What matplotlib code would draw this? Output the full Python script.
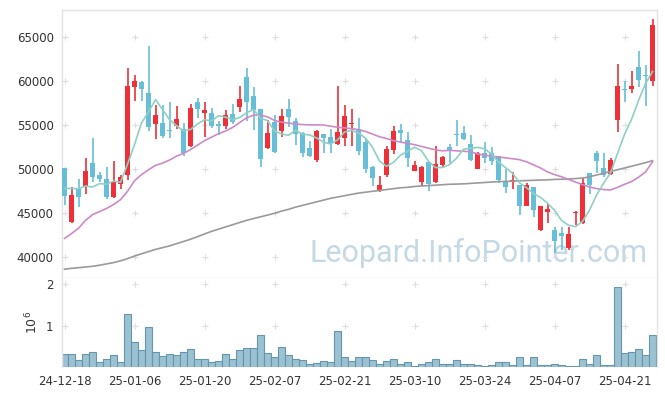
import numpy as np
import pandas as pd
import matplotlib.pyplot as plt

# daily candles, 24-12-18 .. 25-04-25 (85 trading days)
opens = [50100, 44050, 47750, 48050, 50700, 49350, 48950, 46800, 48350, 49300,
         59400, 59950, 58650, 55200, 55250, 54450, 54950, 54600, 52650, 57600,
         56450, 56350, 55150, 54950, 56250, 57100, 60450, 58350, 56850, 52450,
         55400, 54350, 56850, 55450, 54150, 52450, 51050, 54000, 53700, 52900,
         53600, 55150, 54550, 53050, 50300, 47550, 49350, 52200, 54450, 53350,
         49850, 48600, 50800, 48600, 50500, 52550, 54000, 54150, 52850, 50050,
         51800, 51900, 51500, 48600, 48600, 48200, 45850, 47950, 43050, 45200,
         43050, 42750, 41050, 45000, 43850, 49550, 51800, 50100, 49450, 55550,
         59100, 59100, 61600, 60650, 60000]
highs = [50150, 47950, 48850, 51250, 53500, 49750, 50250, 50950, 49300, 61550,
         60700, 60050, 64000, 57300, 57300, 57600, 57200, 55250, 57400, 58050,
         57700, 57000, 55500, 56750, 57400, 59500, 61500, 59400, 56900, 55550,
         56150, 56900, 57950, 55800, 54200, 53200, 54450, 54050, 54550, 59450,
         57300, 56850, 55800, 53550, 50350, 49250, 52650, 54900, 55150, 54250,
         50950, 50400, 50850, 52600, 51500, 52900, 55600, 54900, 53950, 51950,
         53050, 52550, 51550, 50000, 49650, 48250, 48500, 48000, 45850, 46050,
         43400, 43400, 43450, 45300, 49050, 49600, 52100, 51800, 51250, 61950,
         60050, 61150, 63450, 61850, 67050]
lows = [45950, 43950, 45700, 47250, 48600, 48600, 46650, 46750, 47750, 48800,
        57750, 57750, 54300, 53400, 53500, 53600, 54550, 51500, 52500, 55800,
        53700, 54650, 53900, 54550, 55100, 56550, 55500, 54450, 50250, 52300,
        51900, 53650, 54850, 52750, 51450, 51450, 50800, 51800, 51900, 52750,
        52700, 52600, 51650, 49550, 48150, 47400, 49150, 51700, 53150, 50300,
        49800, 48150, 47550, 48450, 50300, 50700, 52600, 53350, 50900, 50000,
        50700, 50500, 48500, 47350, 47750, 44800, 45800, 44600, 43000, 43850,
        40500, 40800, 40850, 43700, 43800, 47250, 49550, 49150, 49400, 54200,
        57600, 58650, 59300, 57200, 59450]
closes = [47000, 47100, 46900, 49800, 49150, 48900, 46800, 48600, 49150, 59450,
          60050, 59100, 54850, 56150, 53800, 54300, 55700, 51900, 56950, 56900,
          56750, 54950, 54900, 56150, 55400, 57950, 57700, 56750, 51200, 54100,
          52000, 56050, 55950, 54050, 51900, 51550, 54350, 53600, 52950, 54250,
          56050, 55250, 52100, 50050, 49050, 48200, 52300, 54350, 54150, 51250,
          50500, 50300, 48350, 50550, 51350, 52100, 53950, 53450, 51050, 51900,
          51300, 51000, 48800, 47950, 48750, 45850, 48200, 45400, 45850, 45450,
          41800, 42450, 42650, 45100, 48400, 48200, 50950, 49350, 51050, 59450,
          59050, 59450, 60100, 60600, 66400]
prev_close = [47100, 47050, 48300, 49700]  # closes before the window, for MA5

ma20 = [42150, 42700, 43300, 44200, 44850, 45200, 45550, 46000, 46550, 47500,
        48700, 49400, 49950, 50450, 50700, 51050, 51500, 51800, 52250, 52750,
        53250, 53650, 54050, 54350, 54750, 55300, 55850, 56150, 56150, 55950,
        55550, 55350, 55250, 55150, 55080, 55050, 55050, 55030, 54900, 54780,
        54700, 54620, 54500, 54300, 54000, 53700, 53500, 53250, 53100, 52950,
        52800, 52600, 52400, 52200, 52100, 52150, 52100, 52050, 52000, 51750,
        51600, 51500, 51400, 51300, 51200, 51100, 50850, 50500, 50150, 49700,
        49400, 49150, 48850, 48550, 48250, 48000, 47800, 47700, 47650, 47950,
        48300, 48600, 49100, 49700, 50850]
ma60 = [38650, 38750, 38820, 38900, 38980, 39100, 39250, 39400, 39600, 39850,
        40150, 40400, 40650, 40900, 41100, 41300, 41550, 41800, 42050, 42350,
        42650, 42950, 43200, 43450, 43700, 43950, 44200, 44400, 44600, 44800,
        45000, 45250, 45450, 45700, 45900, 46100, 46300, 46500, 46700, 46850,
        47000, 47150, 47300, 47400, 47500, 47600, 47700, 47800, 47900, 47950,
        48050, 48100, 48150, 48200, 48250, 48300, 48320, 48350, 48400, 48450,
        48500, 48550, 48600, 48620, 48650, 48700, 48720, 48750, 48780, 48800,
        48850, 48870, 48900, 48950, 49000, 49150, 49350, 49550, 49750, 49950,
        50150, 50350, 50550, 50750, 50980]

volume = [0.325, 0.31, 0.18, 0.325, 0.37, 0.13, 0.20, 0.28, 0.13, 1.27,
          0.615, 0.42, 0.955, 0.37, 0.26, 0.325, 0.28, 0.37, 0.44, 0.20,
          0.20, 0.13, 0.155, 0.325, 0.20, 0.40, 0.47, 0.47, 0.785, 0.35,
          0.25, 0.495, 0.30, 0.20, 0.18, 0.08, 0.105, 0.155, 0.13, 0.86,
          0.23, 0.155, 0.23, 0.25, 0.18, 0.08, 0.155, 0.20, 0.08, 0.13,
          0.035, 0.08, 0.13, 0.20, 0.08, 0.08, 0.18, 0.08, 0.08, 0.06,
          0.035, 0.06, 0.13, 0.13, 0.06, 0.25, 0.06, 0.23, 0.06, 0.06,
          0.08, 0.06, 0.035, 0.035, 0.20, 0.08, 0.30, 0.06, 0.06, 1.94,
          0.35, 0.37, 0.445, 0.30, 0.77]  # millions

tick_pos = [0, 10, 20, 30, 40, 50, 60, 70, 80]
tick_labels = ['24-12-18', '25-01-06', '25-01-20', '25-02-07', '25-02-21',
               '25-03-10', '25-03-24', '25-04-07', '25-04-21']
price_ticks = [40000, 45000, 50000, 55000, 60000, 65000]

RED = '#ee3038'
BLUE = '#66bed8'
EDGE = '#e3e3e3'
TXT = '#333333'

x = np.arange(len(closes))
o = np.array(opens)
c = np.array(closes)
colors = np.where(c >= o, RED, BLUE)
ma5 = pd.Series(prev_close + closes).rolling(5).mean().to_numpy()[len(prev_close):]

fig = plt.figure(figsize=(6.65, 3.96), dpi=100)
ax = fig.add_axes([62/665, 1-278/396, 595/665, 268/396])
axv = fig.add_axes([62/665, 1-367/396, 595/665, 89/396], sharex=ax)

# crosses at grid intersections
gx, gy = np.meshgrid(tick_pos, price_ticks)
ax.scatter(gx.ravel(), gy.ravel(), marker='+', s=22, color='#dedede', lw=0.8, zorder=1)
gx, gy = np.meshgrid(tick_pos, [1, 2])
axv.scatter(gx.ravel(), gy.ravel(), marker='+', s=22, color='#dedede', lw=0.8, zorder=1)

ax.text(0.985, 0.095, 'Leopard.InfoPointer.com', transform=ax.transAxes,
        ha='right', va='center', fontsize=22, family='Roboto',
        color='#c4d8e6', zorder=0)

ax.vlines(x, lows, highs, color=colors, lw=1.2, zorder=2)
ax.bar(x, np.maximum(np.abs(c - o), 60), bottom=np.minimum(o, c), width=0.72,
       color=colors, lw=0, zorder=3)
ax.plot(x, ma60, color='#9a9a9a', lw=1.2, zorder=4)
ax.plot(x, ma20, color='#cc8ac8', lw=1.2, zorder=4)
ax.plot(x, ma5, color='#8fd0c4', lw=1.2, zorder=4)

axv.bar(x, volume, width=1.0, color='#9cc2d2', edgecolor='#6496b0', lw=0.8, zorder=2)

ax.set_xlim(-0.36, 84.64)
ax.set_ylim(37650, 68100)
axv.set_ylim(0, 2.15)

ax.set_yticks(price_ticks)
ax.set_yticklabels([str(v) for v in price_ticks])
axv.set_yticks([1, 2])
axv.set_yticklabels(['1', '2'])
axv.set_xticks(tick_pos)
axv.set_xticklabels(tick_labels)
axv.set_ylabel(r'$10^6$', fontsize=9, color=TXT, labelpad=4)
ax.tick_params(axis='x', labelbottom=False, length=0)

for a in (ax, axv):
    a.tick_params(length=0, labelsize=8.5, labelcolor=TXT, pad=6)
    for s in a.spines.values():
        s.set_color(EDGE)
        s.set_linewidth(1)
axv.spines['top'].set_visible(False)
axv.spines['bottom'].set_visible(False)

fig.savefig('out.png', dpi=100)
